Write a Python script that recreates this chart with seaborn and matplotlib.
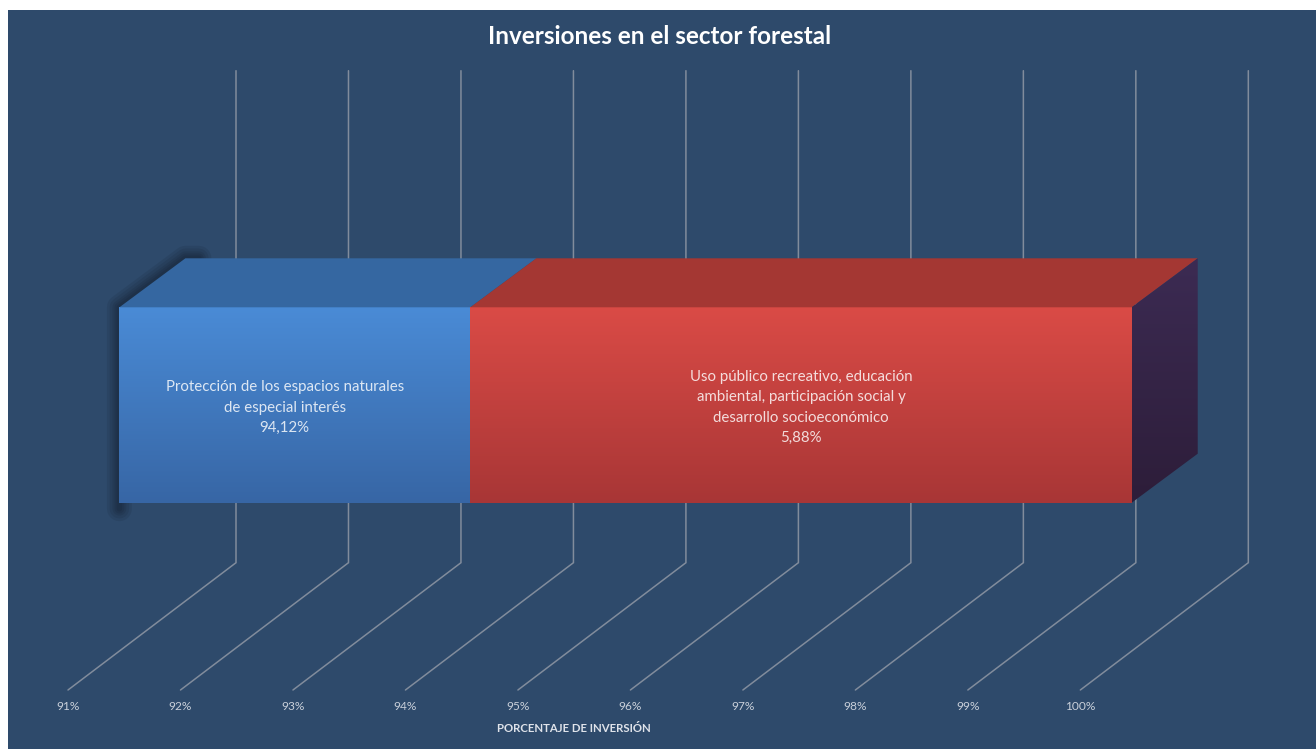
import numpy as np
import pandas as pd
import matplotlib
matplotlib.use("Agg")
import matplotlib.pyplot as plt
from matplotlib.patches import Polygon, Rectangle
from matplotlib.colors import LinearSegmentedColormap
import seaborn as sns

# ---------------- data ----------------
title = "Inversiones en el sector forestal"
categories = [
    "Protección de los espacios naturales\nde especial interés",
    "Uso público recreativo, educación\nambiental, participación social y\ndesarrollo socioeconómico",
]
values = [94.12, 5.88]
value_labels = ["94,12%", "5,88%"]
ticks = [91, 92, 93, 94, 95, 96, 97, 98, 99, 100]
tick_labels = ["91%", "92%", "93%", "94%", "95%", "96%", "97%", "98%", "99%", "100%"]
axis_title = "PORCENTAJE DE INVERSIÓN"
x_min, x_max = 91, 100

# ---------------- style ----------------
BG = "#2e4a6b"
GRID = "#818c9c"
front_top = ["#4a8bd6", "#da4b46"]
front_bottom = ["#3766a5", "#a83636"]
top_colors = ["#3567a1", "#a43733"]
side_top, side_bottom = "#3c2b53", "#2d1d39"

W, H = 1316, 749
PX_X = 112.48          # pixels per percentage unit
X_LEFT = 119.4         # pixel of x_min on the front plane
PX_Y = 244.25          # pixels per category unit
Y_CENTER = 405.0       # pixel row of the bar centre


def ypx(p):
    """pixel row (from top) -> data y of the categorical axis"""
    return (p - Y_CENTER) / PX_Y


# 3-D depth vectors (pixels -> data)
bar_dx, bar_dy = 66 / PX_X, -49 / PX_Y
wall_dx = 116.6 / PX_X
floor_dx = -168 / PX_X

sns.set_theme(style="white")
plt.rcParams["font.family"] = ["Lato", "DejaVu Sans"]

fig = plt.figure(figsize=(W / 100, H / 100), dpi=100, facecolor="white")
fig.patches.append(Rectangle((8 / W, 0), 1 - 8 / W, (H - 10) / H,
                             transform=fig.transFigure, facecolor=BG,
                             edgecolor="none", zorder=-10))

ax = fig.add_axes([X_LEFT / W, 0, (x_max - x_min) * PX_X / W, 1])
ax.set_facecolor("none")

cum = np.cumsum(values)
starts = cum - np.array(values)
df = pd.DataFrame({"segment": categories, "end": cum, "row": [""] * len(values)})

# stacked bars: draw cumulative totals from the largest down
rects = {}
for i in reversed(range(len(values))):
    n_before = len(ax.patches)
    sns.barplot(data=df.iloc[[i]], x="end", y="row", orient="h",
                color=front_top[i], saturation=1, width=0.8, ax=ax,
                zorder=3, linewidth=0)
    rects[i] = ax.patches[n_before]

y0 = rects[0].get_y()                 # top edge (data)
y1 = rects[0].get_y() + rects[0].get_height()  # bottom edge

# gridlines: back wall + floor
y_wall_top, y_wall_bot, y_floor = ypx(70.7), ypx(562.7), ypx(690)
for t in ticks:
    bx = t + wall_dx
    ax.plot([bx, bx, bx + floor_dx], [y_wall_top, y_wall_bot, y_floor],
            color=GRID, lw=1.1, clip_on=False, zorder=1, solid_joinstyle="miter")

for t, lab in zip(ticks, tick_labels):
    ax.text(t + wall_dx + floor_dx, ypx(707), lab, ha="center", va="center",
            fontsize=8.6, color="#c9d0da", clip_on=False)

# soft shadow around the left silhouette of the bar
s0 = max(starts[0], x_min)
sx = [s0, s0, s0 + bar_dx, s0 + bar_dx + 0.12]
sy = [y1 + 6 / PX_Y, y0, y0 + bar_dy, y0 + bar_dy]
for lw in [18, 14, 10, 7, 4]:
    ax.plot(sx, sy, color="black", alpha=0.07, lw=lw, solid_capstyle="round",
            solid_joinstyle="round", clip_on=False, zorder=2)

grad = np.linspace(0, 1, 256).reshape(-1, 1)
for i in range(len(values)):
    s = max(starts[i], x_min)
    e = cum[i]
    cmap = LinearSegmentedColormap.from_list(f"g{i}", [front_top[i], front_bottom[i]])
    ax.imshow(grad, cmap=cmap, extent=(s, e, y1, y0), origin="upper",
              aspect="auto", zorder=4, interpolation="bicubic")
    # top face
    ax.add_patch(Polygon([(s, y0), (s + bar_dx, y0 + bar_dy),
                          (e + bar_dx, y0 + bar_dy), (e, y0)],
                         closed=True, facecolor=top_colors[i], edgecolor="none",
                         zorder=4, clip_on=False))

# right side face with gradient
e = cum[-1]
side = Polygon([(e, y0), (e + bar_dx, y0 + bar_dy), (e + bar_dx, y1 + bar_dy), (e, y1)],
               closed=True, facecolor="none", edgecolor="none", clip_on=False,
               transform=ax.transData)
ax.add_patch(side)
cmap_side = LinearSegmentedColormap.from_list("side", [side_top, side_bottom])
im = ax.imshow(grad, cmap=cmap_side, extent=(e, e + bar_dx, y1, y0 + bar_dy),
               origin="upper", aspect="auto", zorder=4)
im.set_clip_box(fig.bbox)
im.set_clip_path(side)

# segment labels
label_shift = [-0.09, 0.0]
for i in range(len(values)):
    s = max(starts[i], x_min)
    mid = (s + cum[i]) / 2 + label_shift[i]
    ax.text(mid, ypx(407.5), categories[i] + "\n" + value_labels[i],
            ha="center", va="center", fontsize=10.8, color="white", alpha=0.82,
            linespacing=1.55, zorder=6)

ax.set_xlim(x_min, x_max)
ax.set_ylim(ypx(H), ypx(0))
ax.axis("off")

fig.text(660 / W, 1 - 37 / H, title, ha="center", va="center", fontsize=17.5,
         fontweight="bold", color="white")
fig.text(574 / W, 1 - 728 / H, axis_title, ha="center", va="center", fontsize=8.2,
         fontweight="bold", color="#dfe3ea")

fig.savefig("out.png", dpi=100, facecolor=fig.get_facecolor())
